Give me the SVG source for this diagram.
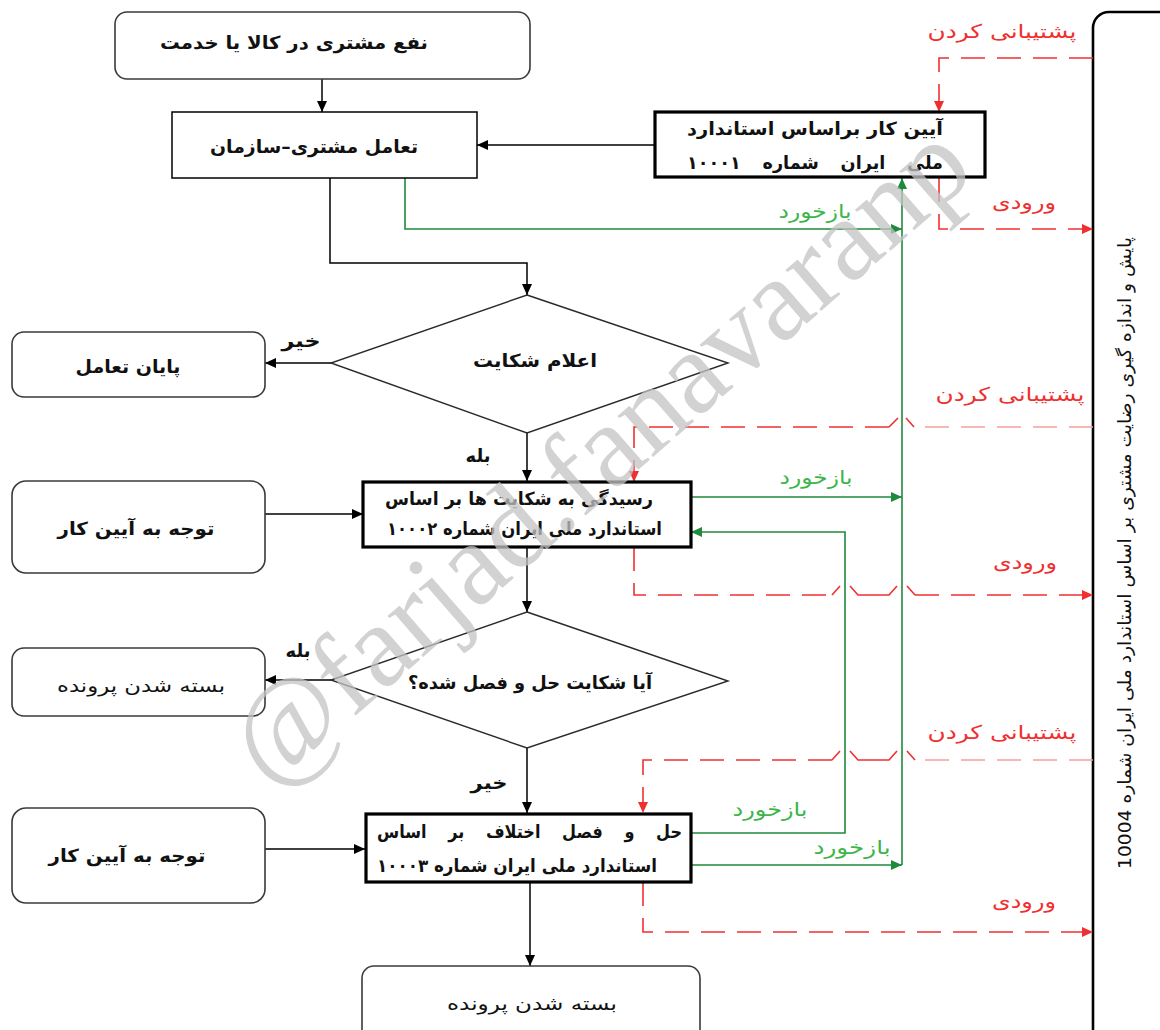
<svg xmlns="http://www.w3.org/2000/svg" width="1160" height="1030" viewBox="0 0 1160 1030">
<defs>
<marker id="ab" markerUnits="userSpaceOnUse" markerWidth="12" markerHeight="10" refX="11" refY="5" orient="auto"><path d="M0,0 L11,5 L0,10 z" fill="#000"/></marker>
<marker id="ag" markerUnits="userSpaceOnUse" markerWidth="12" markerHeight="10" refX="11" refY="5" orient="auto"><path d="M0,0 L11,5 L0,10 z" fill="#1f8a3c"/></marker>
<marker id="ar" markerUnits="userSpaceOnUse" markerWidth="12" markerHeight="10" refX="11" refY="5" orient="auto"><path d="M0,0 L11,5 L0,10 z" fill="#f03030"/></marker>
</defs>
<style>
.rb{fill:#fff;stroke:#3a3a3a;stroke-width:1.6}
.bx{fill:#fff;stroke:#000;stroke-width:1.5}
.tk{fill:#fff;stroke:#000;stroke-width:3.2}
.dm{fill:#fff;stroke:#2a2a2a;stroke-width:1.4}
text{font-family:"DejaVu Sans",sans-serif;direction:rtl;dominant-baseline:central}
.t{font-size:18px;font-weight:bold;fill:#111;text-anchor:middle}
.tn{font-size:18px;fill:#111;text-anchor:middle}
.tr{font-size:18px;font-weight:bold;fill:#111;text-anchor:start}
.red{font-size:19px;fill:#f03030;text-anchor:middle}
.grn{font-size:19px;fill:#3cb54a;text-anchor:middle}
.bl{fill:none;stroke:#000;stroke-width:1.5}
.gl{fill:none;stroke:#1f8a3c;stroke-width:1.6}
.rd{fill:none;stroke:#f03030;stroke-width:1.6;stroke-dasharray:24,12}
.rdl{fill:none;stroke:#f5a0a0;stroke-width:1.6;stroke-dasharray:24,12}
.rs{fill:none;stroke:#f03030;stroke-width:1.6}
</style>

<g id="panel">
<rect x="1093" y="12" width="110" height="1050" rx="16" fill="#fff" stroke="#000" stroke-width="2.6"/>
<text class="tn" transform="translate(1124,553) rotate(-90)" textLength="632" lengthAdjust="spacingAndGlyphs">پایش و اندازه گیری رضایت مشتری بر اساس استاندارد ملی ایران شماره 10004</text>
</g>

<g id="connectors">
<path class="bl" d="M322,79 V112" marker-end="url(#ab)"/>
<path class="bl" d="M654,145 H477" marker-end="url(#ab)"/>
<path class="bl" d="M330,178 V263 H527 V295" marker-end="url(#ab)"/>
<path class="bl" d="M332,363 H265" marker-end="url(#ab)"/>
<path class="bl" d="M527,433 V481" marker-end="url(#ab)"/>
<path class="bl" d="M265,514 H363" marker-end="url(#ab)"/>
<path class="bl" d="M527,547 V612" marker-end="url(#ab)"/>
<path class="bl" d="M332,680 H265" marker-end="url(#ab)"/>
<path class="bl" d="M527,748 V813" marker-end="url(#ab)"/>
<path class="bl" d="M265,849 H365" marker-end="url(#ab)"/>
<path class="bl" d="M530,882 V966" marker-end="url(#ab)"/>

<path class="gl" d="M405,178 V229 H902" marker-end="url(#ag)"/>
<path class="gl" d="M691,497 H902" marker-end="url(#ag)"/>
<path class="gl" d="M691,833 H845 V532 H691" marker-end="url(#ag)"/>
<path class="gl" d="M691,865 H902" marker-end="url(#ag)"/>
<path class="gl" d="M902,865 V178" marker-end="url(#ag)"/>

<path class="rd" d="M1093,58 H939 V112" marker-end="url(#ar)"/>
<path class="rd" d="M939,178 V229 H1093" marker-end="url(#ar)"/>

<path class="rdl" d="M1093,427 H914"/>
<path class="rs" d="M914,427 L906,418 M898,418 L889,427"/>
<path class="rd" d="M889,427 H634 V482" marker-end="url(#ar)"/>

<path class="rd" d="M634,547 V595 H832"/>
<path class="rs" d="M832,595 L840,586 M850,586 L858,595 H889 L897,586 M907,586 L915,595"/>
<path class="rd" d="M915,595 H1093" marker-end="url(#ar)"/>

<path class="rdl" d="M1093,760 H915"/>
<path class="rs" d="M915,760 L907,751 M897,751 L889,760 H858 L850,751 M840,751 L832,760"/>
<path class="rd" d="M832,760 H643 V813" marker-end="url(#ar)"/>

<path class="rd" d="M643,882 V932 H1093" marker-end="url(#ar)"/>

<text class="red" x="1002" y="31" textLength="149" lengthAdjust="spacingAndGlyphs">پشتیبانی کردن</text>
<text class="red" x="1024" y="202" textLength="64" lengthAdjust="spacingAndGlyphs">ورودی</text>
<text class="grn" x="815" y="211" textLength="73" lengthAdjust="spacingAndGlyphs">بازخورد</text>
<text class="red" x="1010" y="394" textLength="149" lengthAdjust="spacingAndGlyphs">پشتیبانی کردن</text>
<text class="grn" x="816" y="477" textLength="73" lengthAdjust="spacingAndGlyphs">بازخورد</text>
<text class="red" x="1025" y="562" textLength="64" lengthAdjust="spacingAndGlyphs">ورودی</text>
<text class="red" x="1002" y="732" textLength="149" lengthAdjust="spacingAndGlyphs">پشتیبانی کردن</text>
<text class="grn" x="770" y="809" textLength="75" lengthAdjust="spacingAndGlyphs">بازخورد</text>
<text class="grn" x="852" y="847" textLength="77" lengthAdjust="spacingAndGlyphs">بازخورد</text>
<text class="red" x="1024" y="901" textLength="64" lengthAdjust="spacingAndGlyphs">ورودی</text>
<text class="t" x="301" y="340" textLength="39" lengthAdjust="spacingAndGlyphs">خیر</text>
<text class="t" x="478" y="455" textLength="25" lengthAdjust="spacingAndGlyphs">بله</text>
<text class="t" x="298" y="650" textLength="25" lengthAdjust="spacingAndGlyphs">بله</text>
<text class="t" x="489" y="782" textLength="37" lengthAdjust="spacingAndGlyphs">خیر</text>
</g>

<g id="n_benefit">
<rect class="rb" x="115" y="12" width="415" height="67" rx="12"/>
<text class="t" x="294" y="42" textLength="268" lengthAdjust="spacingAndGlyphs">نفع مشتری در کالا یا خدمت</text>
</g>
<g id="n_interaction">
<rect class="bx" x="172" y="112" width="305" height="66"/>
<text class="t" x="314" y="146" textLength="208" lengthAdjust="spacingAndGlyphs">تعامل مشتری–سازمان</text>
</g>
<g id="n_code1">
<rect class="tk" x="655" y="112" width="330" height="65"/>
<text class="tr" x="943" y="128" textLength="256" lengthAdjust="spacingAndGlyphs">آیین کار براساس استاندارد</text>
<text class="tr" x="943" y="162" style="word-spacing:16px" textLength="256" lengthAdjust="spacingAndGlyphs">ملی ایران شماره ۱۰۰۰۱</text>
</g>
<g id="n_complaint">
<polygon class="dm" points="527,295 728,363 527,433 331,363"/>
<text class="t" x="535" y="360" textLength="124" lengthAdjust="spacingAndGlyphs">اعلام شکایت</text>
</g>
<g id="n_end">
<rect class="rb" x="12" y="332" width="253" height="65" rx="12"/>
<text class="t" x="128" y="366" textLength="105" lengthAdjust="spacingAndGlyphs">پایان تعامل</text>
</g>
<g id="n_review">
<rect class="tk" x="363" y="482" width="328" height="65"/>
<text class="tr" x="653" y="498" textLength="268" lengthAdjust="spacingAndGlyphs">رسیدگی به شکایت ها بر اساس</text>
<text class="tr" x="662" y="528" textLength="275" lengthAdjust="spacingAndGlyphs">استاندارد ملی ایران شماره ۱۰۰۰۲</text>
</g>
<g id="n_guide1">
<rect class="rb" x="12" y="481" width="253" height="92" rx="14"/>
<text class="t" x="136" y="528" textLength="157" lengthAdjust="spacingAndGlyphs">توجه به آیین کار</text>
</g>
<g id="n_resolved">
<polygon class="dm" points="527,612 728,681 527,748 331,680"/>
<text class="t" x="530" y="682" textLength="244" lengthAdjust="spacingAndGlyphs">آیا شکایت حل و فصل شده؟</text>
</g>
<g id="n_close1">
<rect class="rb" x="12" y="648" width="253" height="68" rx="12"/>
<text class="tn" x="141" y="685" textLength="168" lengthAdjust="spacingAndGlyphs">بسته شدن پرونده</text>
</g>
<g id="n_dispute">
<rect class="tk" x="366" y="814" width="325" height="68"/>
<text class="tr" x="682" y="831" style="word-spacing:18px" textLength="305" lengthAdjust="spacingAndGlyphs">حل و فصل اختلاف بر اساس</text>
<text class="tr" x="657" y="865" textLength="280" lengthAdjust="spacingAndGlyphs">استاندارد ملی ایران شماره ۱۰۰۰۳</text>
</g>
<g id="n_guide2">
<rect class="rb" x="12" y="808" width="253" height="95" rx="14"/>
<text class="t" x="127" y="855" textLength="157" lengthAdjust="spacingAndGlyphs">توجه به آیین کار</text>
</g>
<g id="n_close2">
<rect class="rb" x="362" y="966" width="338" height="80" rx="12"/>
<text class="tn" x="532" y="1003" textLength="170" lengthAdjust="spacingAndGlyphs">بسته شدن پرونده</text>
</g>

<g id="watermark" opacity="0.75">
<text x="0" y="0" transform="translate(270,790) rotate(-41)" style="font-family:'Liberation Serif',serif;font-size:118px;fill:#c4c4c4;direction:ltr;text-anchor:start;dominant-baseline:alphabetic">@farjad.fanavaranp</text>
</g>
</svg>
